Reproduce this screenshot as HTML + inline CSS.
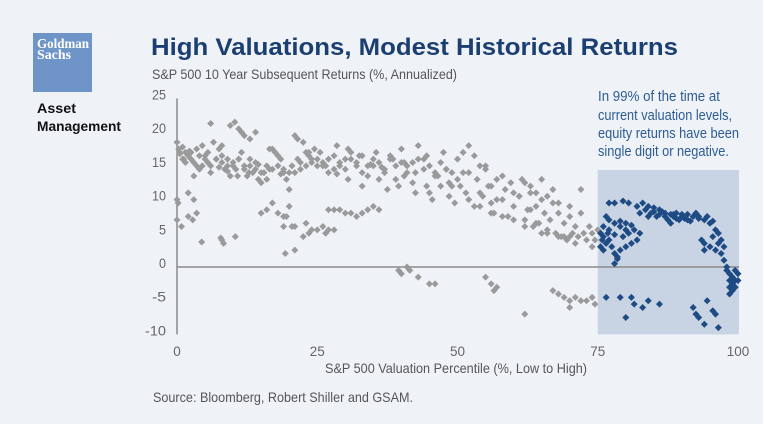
<!DOCTYPE html>
<html><head><meta charset="utf-8"><style>
body{margin:0;background:#eff3f8;}
svg{display:block;font-family:"Liberation Sans Narrow","Liberation Sans",sans-serif;}
</style></head><body>
<svg id="chart" width="763" height="424" viewBox="0 0 763 424" xmlns="http://www.w3.org/2000/svg">
<rect width="763" height="424" fill="#eff3f8"/>
<g>
<rect x="33" y="33" width="59" height="59" fill="#6f95c8"/>
<text x="37" y="48" fill="#fff" font-family="Liberation Serif,serif" font-weight="bold" font-size="14" textLength="52" lengthAdjust="spacingAndGlyphs">Goldman</text>
<text x="37" y="59" fill="#fff" font-family="Liberation Serif,serif" font-weight="bold" font-size="14" textLength="34" lengthAdjust="spacingAndGlyphs">Sachs</text>
</g>
<text x="37" y="113" font-family="Liberation Sans,sans-serif" font-weight="bold" font-size="14" fill="#111" textLength="39" lengthAdjust="spacingAndGlyphs">Asset</text>
<text x="37" y="131" font-family="Liberation Sans,sans-serif" font-weight="bold" font-size="14" fill="#111" textLength="84" lengthAdjust="spacingAndGlyphs">Management</text>
<text x="151" y="55" font-family="Liberation Sans,sans-serif" font-weight="bold" font-size="24" fill="#1c3f72" textLength="527" lengthAdjust="spacingAndGlyphs">High Valuations, Modest Historical Returns</text>
<text x="152" y="79" font-size="14" fill="#555" textLength="305" lengthAdjust="spacingAndGlyphs">S&amp;P 500 10 Year Subsequent Returns (%, Annualized)</text>
<rect id="shade" fill="#c8d3e3"/>
<g id="yticks"></g><g id="xticks"></g>
<line id="zero" stroke="#8a8a8a" stroke-width="1.5"/>
<line id="yaxis" stroke="#8a8a8a" stroke-width="1.5"/>
<g id="pts"></g>
<g font-size="14.5" fill="#2d5b92">
<text x="598" y="101" textLength="122" lengthAdjust="spacingAndGlyphs">In 99% of the time at</text>
<text x="598" y="120" textLength="134" lengthAdjust="spacingAndGlyphs">current valuation levels,</text>
<text x="598" y="138" textLength="141" lengthAdjust="spacingAndGlyphs">equity returns have been</text>
<text x="598" y="156" textLength="131" lengthAdjust="spacingAndGlyphs">single digit or negative.</text>
</g>
<text x="456" y="373" text-anchor="middle" font-size="14" fill="#555" textLength="262" lengthAdjust="spacingAndGlyphs">S&amp;P 500 Valuation Percentile (%, Low to High)</text>
<text x="153" y="402" font-size="14" fill="#555" textLength="260" lengthAdjust="spacingAndGlyphs">Source: Bloomberg, Robert Shiller and GSAM.</text>
</svg>
<script>
const yTicks=[25,20,15,10,5,0,-5,-10];
const xTicks=[0,25,50,75,100];
const grayX=[0,0.3,0.5,1,1.5,2,2.5,3,3.5,4,4.5,5,0,0.2,0,0.8,2,3,2,2.8,3.5,4,3,4.5,5.5,6,6.5,7,7.5,8,8.5,9,9.5,10,10.5,11,11.5,12,12.5,13,13.5,14,14.5,15,15.5,16,16.5,17,17.5,18,18.5,19,19.5,20,20.5,21,21.5,22,22.5,23,23.5,24,24.5,25,6,9.5,10.3,11,11.5,12,13,14,8,4.4,8,8.3,7.8,10.4,15,16,17,19.3,18,21,19,20,20.5,19,
25.5,26,27,28,28.5,29,30,30.5,31,32,33,33,34,35,35.5,36,37,37.5,38,39,39.5,40,40.5,41,42,42.5,43,44,44.5,45,45.5,46,47,47.5,48,48.5,49,49.5,50,50.5,51,51.5,52,53,53.5,54,54.5,55,55.5,56,56.5,57,58,58.5,59,59.5,60,61,61.5,62,62.5,63,63.5,64,64.5,65,65.5,66,66.5,67,67.5,68,68.5,69,69.5,70,70.5,71,71.5,72,72.5,73,73.5,74,74.5,75,74,
27,28,29,30,31,32,33,34,35,36,25,26,27,28,23,23.5,24,22.5,26.5,21,19.5,
39.5,40,41,41.5,43,45,46,55,56,57,56.5,62,67,68,69,70,71,72,70,73,74,74.5,
50,51,52,53,54,55,56,57,60,62,64,66,68,70,58,63,65,67,
1,1.5,2.5,3.5,5,6,7,8,9,10,11,12,13,14,15,16,17,18,19,20,21,22,23,24,25,26,27,28,29,30,31,32,33,34,35,36,37,38,39,40,41,42,43,44,45,46,47,48,49,0.5,1.2,2.2,5.5,7.5,9,10.8,12.8,14.5,16.5,18.5,21.5,23.5,26.5,28.5,30.5,32.5,34.5,36.5,38.5,40.5,42.5,44.5,46.5,48.5,52,54,56,58,60,62,64,66,68,70,72,61,63,65,69,71,73];
const grayY=[18.5,17.5,16.8,17.8,17,16.5,16,15.5,17.5,16.5,15,16,10,9.5,7,6,11,10,7.5,7,8,14.5,13.5,18,17,15,18.5,16,17.5,15.5,14.5,15,13.5,15,14.5,16,17,14.5,13.5,15,14,14.5,13,12.5,14,13,17.5,17.5,17,16.5,16,14,13,11.5,15,19.5,19,15.5,18.5,17,16.5,15.5,17.5,16,21.3,21,21.5,20.5,20,19.5,19,20,18,3.7,4,3.5,4.3,4.5,8,8.5,9.5,2,8,2.5,7.5,9,6,6,
17,15,16,14.5,18,15.5,16,13,17,15,14,12,13.5,15,17,13,14,11.5,16.5,13,12,17.5,13.5,15,12.5,11,18,16,12,11,10,13.5,12,17,14.5,10.5,12,9.5,13,12,17,11,14,9,13,11,10.5,15,12,9.5,8,13,10,11.5,7.5,12.5,9,10.5,13,7,8.5,11,6,9,6.5,10,8,5,7,9.5,5,8,4.5,6.5,4,7.5,5,6,4.5,8,5,4,6,5,4,5.5,3,
8.5,8.5,8.5,8,8,7.5,8,8.5,9,8.5,5.5,6,5.5,5.5,6.5,5,5.5,4.5,5,6,7.5,
-0.5,-1,0,-0.5,-1.5,-2.5,-2.5,-1.5,-2.5,-3,-3.5,-7,-3.5,-4,-4.5,-5,-4.5,-5,-6,-5,-4.5,-5.5,
16,14,18,16.5,15,14.5,12,10,11,12.5,11,10.5,9.5,9,13.5,12,13,11.5,
16,15.5,17,15,16.5,14,16,16.5,16,15.5,16,15,16,15.5,14,15,14.5,15,14.5,14,14,14.5,15,16,15,15.5,14,16.5,15,14.5,16,15.5,16.5,15,16,15.5,14.5,16,15,15.5,14,15.5,16,14.5,15,14,15.5,14.5,14,17,16,17.2,15.5,14.8,14.2,13.5,14,15.2,14.5,13.8,16,17,15,13.8,17.5,16.5,15.2,14.8,16,15.5,14,16.5,13.5,12.5,10,9,8,7.5,7,6,6.5,5.5,4.5,4.5,11.5,10.5,8.5,5,4.5,3.5];
const blueX=[75.5,76,76.5,77,75.5,76,77.5,78,78.5,79,80,81,82,80.5,81.5,82.5,76,77,78,79.5,78,78.5,76.5,77,78,79,80,77,78,79.5,80.5,82,83,84,85,86,87,88,89,90,91,92,93,94,95,96,84.5,85.5,86.5,87.5,88.5,89.5,90.5,91.5,88,84,83.5,93.5,94,95,96,97,97,96.5,95.5,97.5,98,98.5,99,99.5,100,99,98.5,99.5,98,99,98.5,94,
76.5,79,81,81.5,83,84,86,80,92,92.5,93,94,95.5,96,96.5,94.5,
82.5,85,86,87,88.5,89,90,91,92.5,93,94.5,95.5,96.5,97.5,98.5,99.5,100,75.8,76.8,79,80,81];
const blueY=[5,4.5,3.5,4,3,2.5,3,2,1.5,2.5,3,3.5,4,5,5.5,5,6,5.5,4.8,4.5,0.5,1.2,7.5,7,6.5,6.8,6.5,9.5,9.5,9.8,9.5,9,9.5,9,8.8,8.5,8,7.8,8,7.5,7.8,7.5,7.5,7,6.5,5.5,8,7.5,8.2,7,7.5,7,7.2,6.8,6.5,7.5,8.5,4,3.5,3,2.5,4,2,3.5,4.5,1,0,-1,-1.5,-2,-1,-2.5,-3,-0.5,-0.5,-3.5,-4,2.5,
-4.5,-4.5,-4.5,-5.5,-6,-5,-5.5,-7.5,-6,-7,-7.5,-8.5,-6.5,-7,-9,-5,
8,8.2,7.8,7.5,7.8,7.2,7.8,7,8,7.2,7.5,6.8,5,3,-2,-3,-2,4,5,6,5.5,6.2];
const X0=177,XS=5.61,Y0=267,YS=6.74;
const sx=v=>X0+v*XS, sy=v=>Y0-v*YS;
const NS="http://www.w3.org/2000/svg";
const mk=(t,a)=>{const e=document.createElementNS(NS,t);for(const k in a)e.setAttribute(k,a[k]);return e;};
const sh=document.getElementById('shade');
sh.setAttribute('x',sx(75));sh.setAttribute('y',170);sh.setAttribute('width',sx(100)-sx(75)+1);sh.setAttribute('height',sy(-10)-170);
const z=document.getElementById('zero');
z.setAttribute('x1',sx(0));z.setAttribute('x2',sx(100)+1);z.setAttribute('y1',sy(0));z.setAttribute('y2',sy(0));
const ya=document.getElementById('yaxis');
ya.setAttribute('x1',sx(0));ya.setAttribute('x2',sx(0));ya.setAttribute('y1',sy(25));ya.setAttribute('y2',sy(-10));
const yg=document.getElementById('yticks');
yTicks.forEach(v=>{const t=mk('text',{x:166,y:sy(v)+1,'text-anchor':'end','font-size':'14',fill:'#666',textLength:String(v).length*7,lengthAdjust:'spacingAndGlyphs'});t.textContent=v;


yg.appendChild(t);});
const xg=document.getElementById('xticks');
xTicks.forEach(v=>{const t=mk('text',{x:sx(v),y:356,'text-anchor':'middle','font-size':'14',fill:'#666',textLength:String(v).length*7.5,lengthAdjust:'spacingAndGlyphs'});t.textContent=v;


xg.appendChild(t);});
const pg=document.getElementById('pts');
function dot(x,y,c,name){const cx=sx(x),cy=sy(y),r=3.5;
const p=mk('polygon',{points:`${cx},${cy-r} ${cx+r},${cy} ${cx},${cy+r} ${cx-r},${cy}`,fill:c});


pg.appendChild(p);}
grayX.forEach((x,i)=>dot(x,grayY[i],'#9a9a9a','gray-point'));
blueX.forEach((x,i)=>dot(x,blueY[i],'#1e4b84','blue-point'));
</script>
</body></html>
